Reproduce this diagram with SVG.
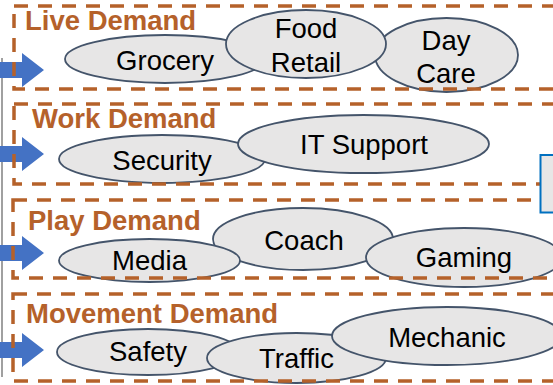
<svg xmlns="http://www.w3.org/2000/svg" width="553" height="385" viewBox="0 0 553 385">
<style>
.ell{fill:#E7E6E6;stroke:#44546A;stroke-width:1.8}
.txt{font-family:"Liberation Sans",Arial,sans-serif;font-size:27.5px;fill:#000;text-anchor:middle}
.lbl{font-family:"Liberation Sans",Arial,sans-serif;font-size:27.5px;font-weight:bold;fill:#B5612A}
.box{fill:none;stroke:#B5612A;stroke-width:3.5;stroke-dasharray:14 10}
.arr{fill:#4472C4}
</style>
<rect width="553" height="385" fill="#fff"/>
<g id="connectors">
<line x1="2" y1="58" x2="2" y2="377" stroke="#A0A0A0" stroke-width="2"/>
<polygon class="arr" points="0,62 22,62 22,53 44,70 22,87 22,78 0,78"/>
<polygon class="arr" points="0,146 22,146 22,137 44,154 22,171 22,162 0,162"/>
<polygon class="arr" points="0,245 22,245 22,236 44,253 22,270 22,261 0,261"/>
<polygon class="arr" points="0,342 22,342 22,333 44,350 22,367 22,358 0,358"/>
</g>
<g id="live">
<g id="grocery"><ellipse class="ell" cx="165" cy="59" rx="100" ry="24"/><text class="txt" x="165" y="70">Grocery</text></g>
<g id="daycare"><ellipse class="ell" cx="446.5" cy="55" rx="71.5" ry="37"/><text class="txt" x="446" y="50">Day</text><text class="txt" x="446" y="83">Care</text></g>
<g id="foodretail"><ellipse class="ell" cx="306" cy="44" rx="80" ry="34"/><text class="txt" x="306" y="38">Food</text><text class="txt" x="306" y="72">Retail</text></g>
</g>
<g id="work">
<g id="security"><ellipse class="ell" cx="162" cy="159" rx="103" ry="24"/><text class="txt" x="162" y="170">Security</text></g>
<g id="itsupport"><ellipse class="ell" cx="363.5" cy="144" rx="125.5" ry="29"/><text class="txt" x="364" y="154">IT Support</text></g>
</g>
<g id="play">
<g id="coach"><ellipse class="ell" cx="303" cy="239" rx="90" ry="31"/><text class="txt" x="304" y="250">Coach</text></g>
<g id="media"><ellipse class="ell" cx="149.5" cy="260.5" rx="90.5" ry="21.5"/><text class="txt" x="149.5" y="270">Media</text></g>
<g id="gaming"><ellipse class="ell" cx="464" cy="257.5" rx="98" ry="29.5"/><text class="txt" x="464" y="267">Gaming</text></g>
</g>
<g id="movement">
<g id="safety"><ellipse class="ell" cx="148" cy="352" rx="91" ry="23"/><text class="txt" x="148" y="361">Safety</text></g>
<g id="traffic"><ellipse class="ell" cx="296.5" cy="358" rx="89.5" ry="25"/><text class="txt" x="296.5" y="368">Traffic</text></g>
<g id="mechanic"><ellipse class="ell" cx="447" cy="336" rx="115" ry="29"/><text class="txt" x="447" y="347">Mechanic</text></g>
</g>
<g id="groups">
<rect class="box" x="14" y="6" width="600" height="83"/>
<rect class="box" x="14" y="104" width="600" height="80"/>
<rect class="box" x="13" y="200" width="600" height="78"/>
<rect class="box" x="13" y="294" width="600" height="87"/>
<text class="lbl" x="25" y="30">Live Demand</text>
<text class="lbl" x="32" y="128">Work Demand</text>
<text class="lbl" x="28" y="230">Play Demand</text>
<text class="lbl" x="26" y="323">Movement Demand</text>
</g>
<g id="sidebox"><rect x="540.5" y="155" width="30" height="57.5" fill="#E7E6E6" stroke="#0070C0" stroke-width="2"/></g>
</svg>
